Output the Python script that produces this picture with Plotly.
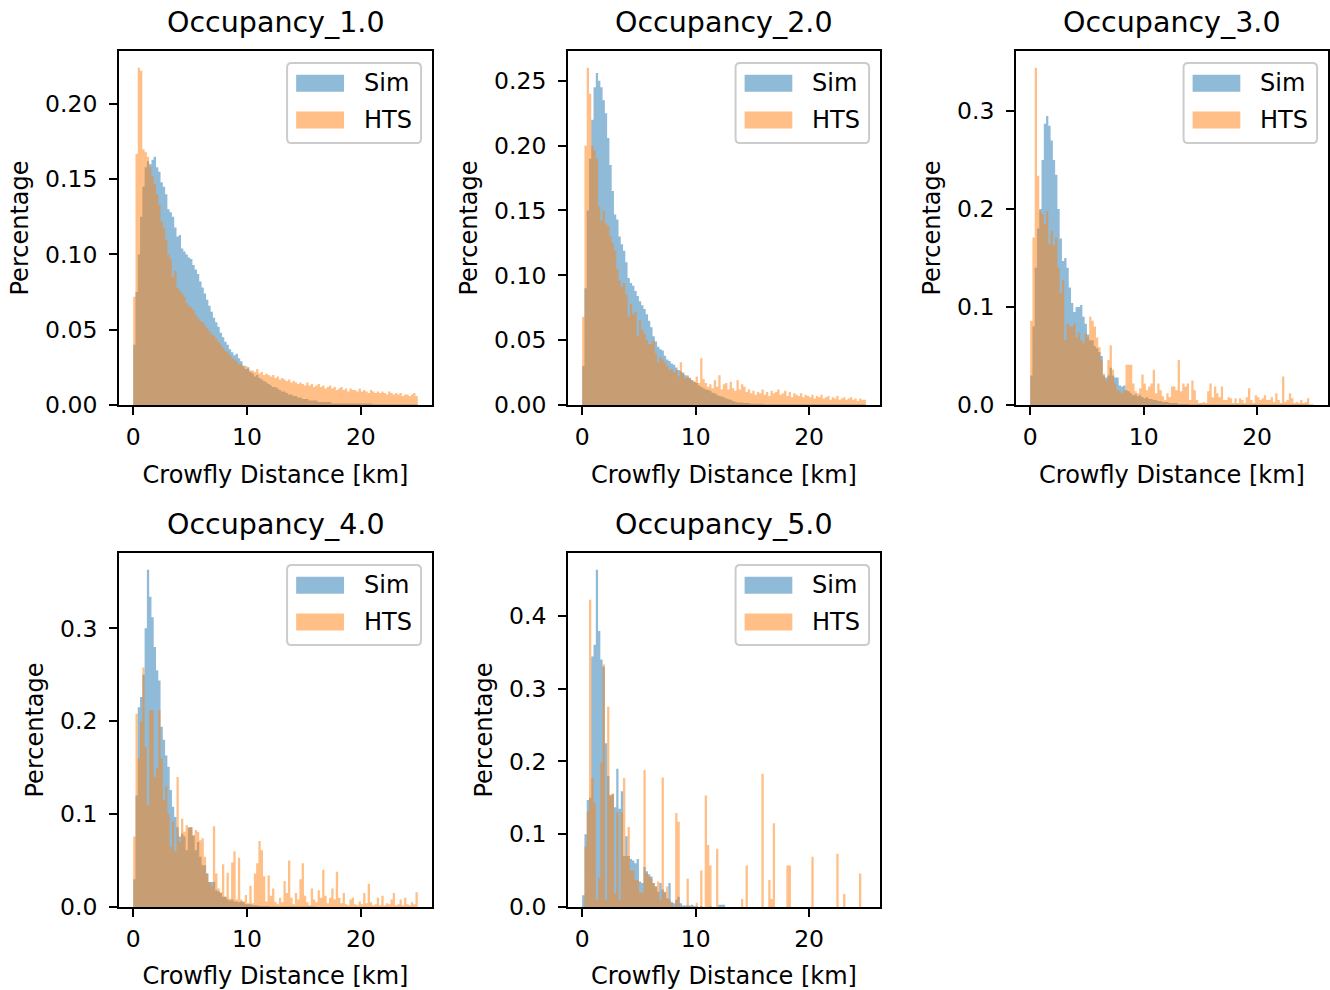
import numpy as np
import plotly.graph_objects as go

# 125 bins of 0.2 km between 0 and 25 km (density histograms)
bin_width = 0.2
bin_edges = np.round(np.arange(126) * bin_width, 2)

titles = ["Occupancy_1.0", "Occupancy_2.0", "Occupancy_3.0", "Occupancy_4.0", "Occupancy_5.0"]
series_names = ["Sim", "HTS"]
x_ticks = [0, 10, 20]
y_ticks = [
    [0.0, 0.05, 0.10, 0.15, 0.20],
    [0.0, 0.05, 0.10, 0.15, 0.20, 0.25],
    [0.0, 0.1, 0.2, 0.3],
    [0.0, 0.1, 0.2, 0.3],
    [0.0, 0.1, 0.2, 0.3, 0.4],
]
y_formats = [".2f", ".2f", ".1f", ".1f", ".1f"]

sim_1 = [0.040, 0.075, 0.100, 0.125, 0.145, 0.158, 0.162, 0.160, 0.163, 0.165,
         0.158, 0.155, 0.148, 0.145, 0.140, 0.130, 0.128, 0.125, 0.118, 0.112,
         0.113, 0.104, 0.102, 0.100, 0.098, 0.097, 0.093, 0.090, 0.087, 0.082,
         0.078, 0.074, 0.070, 0.066, 0.062, 0.058, 0.055, 0.052, 0.048, 0.045,
         0.042, 0.040, 0.037, 0.035, 0.033, 0.034, 0.031, 0.029, 0.026, 0.024,
         0.025, 0.022, 0.021, 0.019, 0.020, 0.018, 0.017, 0.016, 0.015, 0.014,
         0.013, 0.012, 0.012, 0.011, 0.010, 0.009, 0.009, 0.008, 0.007, 0.007,
         0.006, 0.006, 0.005, 0.005, 0.004, 0.004, 0.004, 0.003, 0.003, 0.003,
         0.003, 0.002, 0.002, 0.002, 0.002, 0.002, 0.002, 0.001, 0.001, 0.001,
         0.001, 0.001, 0.001, 0.001, 0.001, 0.001, 0.001, 0.001, 0.001, 0.001,
         0.001, 0.001, 0.001, 0.001, 0.001, 0.0005, 0.0005, 0.0005, 0.0005, 0.0005,
         0.0005, 0.0005, 0.0005, 0.0005, 0.0005, 0.0005, 0.0005, 0.0005, 0.0005, 0.0005,
         0.0005, 0.0005, 0.0005, 0.0005, 0.0005]
hts_1 = [0.072, 0.167, 0.224, 0.222, 0.170, 0.168, 0.165, 0.158, 0.152, 0.147,
         0.140, 0.133, 0.122, 0.118, 0.110, 0.100, 0.097, 0.085, 0.089, 0.078,
         0.076, 0.074, 0.072, 0.068, 0.066, 0.065, 0.063, 0.060, 0.058, 0.056,
         0.055, 0.053, 0.051, 0.049, 0.047, 0.046, 0.044, 0.042, 0.040, 0.038,
         0.036, 0.035, 0.033, 0.031, 0.030, 0.029, 0.027, 0.027, 0.025, 0.026,
         0.024, 0.023, 0.023, 0.022, 0.024, 0.021, 0.022, 0.020, 0.021, 0.020,
         0.019, 0.020, 0.018, 0.019, 0.017, 0.018, 0.017, 0.016, 0.017, 0.015,
         0.016, 0.015, 0.014, 0.015, 0.014, 0.013, 0.015, 0.013, 0.014, 0.012,
         0.013, 0.014, 0.012, 0.013, 0.011, 0.012, 0.013, 0.011, 0.012, 0.010,
         0.011, 0.012, 0.010, 0.011, 0.009, 0.011, 0.010, 0.010, 0.009, 0.011,
         0.009, 0.010, 0.009, 0.008, 0.010, 0.009, 0.008, 0.009, 0.008, 0.009,
         0.008, 0.007, 0.009, 0.008, 0.007, 0.008, 0.007, 0.008, 0.006, 0.007,
         0.007, 0.006, 0.007, 0.008, 0.006]

sim_2 = [0.030, 0.090, 0.150, 0.190, 0.220, 0.245, 0.256, 0.250, 0.245, 0.235,
         0.225, 0.206, 0.185, 0.165, 0.147, 0.143, 0.130, 0.124, 0.119, 0.110,
         0.098, 0.094, 0.092, 0.088, 0.084, 0.080, 0.077, 0.074, 0.070, 0.065,
         0.060, 0.053, 0.049, 0.045, 0.043, 0.042, 0.038, 0.035, 0.034, 0.032,
         0.031, 0.029, 0.027, 0.026, 0.025, 0.023, 0.022, 0.021, 0.019, 0.018,
         0.017, 0.015, 0.014, 0.013, 0.012, 0.0115, 0.011, 0.0095, 0.009, 0.008,
         0.007, 0.0065, 0.006, 0.005, 0.0045, 0.004, 0.003, 0.0025, 0.002, 0.002,
         0.002, 0.0015, 0.0015, 0.0015, 0.001, 0.001, 0.001, 0.001, 0.001, 0.001,
         0.0005, 0.0005, 0.0005, 0.0005, 0.0005, 0.0005, 0.0005, 0.0005, 0.0005, 0.0005,
         0.0005, 0.0005, 0.0005, 0.0005, 0.0005, 0.0005, 0.0005, 0.0005, 0.0005, 0.0005,
         0.0005, 0.0005, 0.0005, 0.0005, 0.0005, 0.0005, 0.0005, 0.0005, 0.0005, 0.0005,
         0.0005, 0.0005, 0.0005, 0.0005, 0.0005, 0.0005, 0.0005, 0.0005, 0.0005, 0.0005,
         0.0005, 0.0005, 0.0005, 0.0005, 0.0005]
hts_2 = [0.068, 0.200, 0.260, 0.240, 0.200, 0.196, 0.190, 0.153, 0.142, 0.150,
         0.140, 0.138, 0.130, 0.125, 0.119, 0.105, 0.096, 0.091, 0.094, 0.085,
         0.068, 0.078, 0.070, 0.072, 0.053, 0.065, 0.058, 0.055, 0.050, 0.047,
         0.047, 0.050, 0.040, 0.033, 0.037, 0.035, 0.033, 0.030, 0.027, 0.028,
         0.025, 0.027, 0.022, 0.033, 0.024, 0.020, 0.023, 0.020, 0.019, 0.018,
         0.022, 0.017, 0.036, 0.020, 0.017, 0.014, 0.016, 0.013, 0.019, 0.014,
         0.023, 0.012, 0.016, 0.017, 0.012, 0.018, 0.013, 0.011, 0.019, 0.012,
         0.016, 0.014, 0.010, 0.012, 0.009, 0.011, 0.008, 0.010, 0.009, 0.012,
         0.008, 0.010, 0.007, 0.011, 0.009, 0.010, 0.012, 0.008, 0.009, 0.011,
         0.007, 0.010, 0.006, 0.009, 0.008, 0.007, 0.009, 0.006, 0.008, 0.007,
         0.006, 0.008, 0.005, 0.007, 0.006, 0.008, 0.005, 0.006, 0.007, 0.004,
         0.006, 0.005, 0.007, 0.004, 0.005, 0.006, 0.004, 0.005, 0.006, 0.004,
         0.005, 0.003, 0.005, 0.004, 0.004]

sim_3 = [0.030, 0.080, 0.140, 0.180, 0.200, 0.250, 0.287, 0.295, 0.285, 0.270,
         0.250, 0.235, 0.200, 0.170, 0.147, 0.150, 0.140, 0.120, 0.104, 0.095,
         0.100, 0.100, 0.102, 0.090, 0.083, 0.072, 0.066, 0.066, 0.060, 0.058,
         0.054, 0.050, 0.030, 0.028, 0.030, 0.038, 0.030, 0.028, 0.028, 0.020,
         0.019, 0.020, 0.015, 0.014, 0.012, 0.010, 0.011, 0.009, 0.010, 0.008,
         0.007, 0.008, 0.006, 0.006, 0.005, 0.005, 0.004, 0.004, 0.003, 0.003,
         0.003, 0.002, 0.002, 0.002, 0.002, 0.001, 0.001, 0.001, 0.001, 0.001,
         0.0005, 0.0005, 0.0005, 0.0005, 0.0005, 0.0005, 0.0005, 0.0005, 0.0005, 0.0005,
         0.0005, 0.0005, 0.0005, 0.0005, 0.0005, 0.0005, 0.0005, 0.0005, 0.0005, 0.0005,
         0.0005, 0.0005, 0.0005, 0.0005, 0.0005, 0.0005, 0.0005, 0.0005, 0.0005, 0.0005,
         0.0005, 0.0005, 0.0005, 0.0005, 0.0005, 0.0005, 0.0005, 0.0005, 0.0005, 0.0005,
         0.0005, 0.0005, 0.0005, 0.0005, 0.0005, 0.0005, 0.0005, 0.0005, 0.0005, 0.0005,
         0.0005, 0.0005, 0.0005, 0.0005, 0.0005]
hts_3 = [0.086, 0.171, 0.344, 0.234, 0.198, 0.195, 0.185, 0.198, 0.164, 0.178,
         0.163, 0.171, 0.140, 0.114, 0.127, 0.066, 0.083, 0.080, 0.080, 0.083,
         0.069, 0.074, 0.066, 0.063, 0.073, 0.069, 0.090, 0.086, 0.080, 0.069,
         0.059, 0.046, 0.032, 0.025, 0.046, 0.061, 0.036, 0.022, 0.015, 0.014,
         0.012, 0.015, 0.041, 0.041, 0.041, 0.022, 0.014, 0.012, 0.017, 0.031,
         0.022, 0.015, 0.019, 0.022, 0.036, 0.012, 0.022, 0.015, 0.009, 0.005,
         0.012, 0.008, 0.019, 0.019, 0.015, 0.046, 0.014, 0.022, 0.019, 0.022,
         0.005, 0.025, 0.015, 0.005, 0.002, 0.002, 0.003, 0.002, 0.014, 0.022,
         0.008, 0.019, 0.012, 0.008, 0.019, 0.005, 0.005, 0.008, 0.007, 0.002,
         0.007, 0.002, 0.007, 0.005, 0.002, 0.008, 0.017, 0.005, 0.002, 0.010,
         0.008, 0.005, 0.007, 0.010, 0.005, 0.005, 0.008, 0.003, 0.012, 0.005,
         0.002, 0.029, 0.003, 0.005, 0.012, 0.007, 0.002, 0.003, 0.002, 0.005,
         0.002, 0.003, 0.007, 0.000, 0.000]

sim_4 = [0.030, 0.120, 0.215, 0.226, 0.250, 0.300, 0.363, 0.334, 0.312, 0.280,
         0.255, 0.244, 0.194, 0.180, 0.163, 0.151, 0.126, 0.108, 0.097, 0.086,
         0.076, 0.079, 0.076, 0.061, 0.086, 0.086, 0.077, 0.061, 0.070, 0.054,
         0.045, 0.045, 0.036, 0.027, 0.027, 0.027, 0.018, 0.017, 0.015, 0.011,
         0.011, 0.008, 0.007, 0.008, 0.006, 0.006, 0.005, 0.006, 0.005, 0.003,
         0.003, 0.003, 0.002, 0.002, 0.002, 0.001, 0.001, 0.001, 0.001, 0.001,
         0.0005, 0.0005, 0.0005, 0.0005, 0.0005, 0.0005, 0.0005, 0.0005, 0.0005, 0.0005,
         0.0005, 0.0005, 0.0005, 0.0005, 0.0005, 0.0005, 0.0005, 0.0005, 0.0005, 0.0005,
         0.0, 0.0, 0.0, 0.0, 0.0, 0.0, 0.0, 0.0, 0.0, 0.0,
         0.0, 0.0, 0.0, 0.0, 0.0, 0.0, 0.0, 0.0, 0.0, 0.0,
         0.0, 0.0, 0.0, 0.0, 0.0, 0.0, 0.0, 0.0, 0.0, 0.0,
         0.0, 0.0, 0.0, 0.0, 0.0, 0.0, 0.0, 0.0, 0.0, 0.0,
         0.0, 0.0, 0.0, 0.0, 0.0]
hts_4 = [0.076, 0.208, 0.160, 0.200, 0.258, 0.172, 0.110, 0.212, 0.212, 0.140,
         0.150, 0.212, 0.160, 0.115, 0.130, 0.100, 0.065, 0.092, 0.060, 0.140,
         0.070, 0.095, 0.081, 0.088, 0.085, 0.086, 0.077, 0.083, 0.081, 0.072,
         0.074, 0.054, 0.036, 0.027, 0.022, 0.087, 0.036, 0.020, 0.016, 0.046,
         0.011, 0.037, 0.009, 0.048, 0.060, 0.008, 0.053, 0.008, 0.006, 0.013,
         0.004, 0.023, 0.004, 0.036, 0.047, 0.071, 0.061, 0.033, 0.006, 0.034,
         0.012, 0.020, 0.005, 0.003, 0.010, 0.005, 0.028, 0.015, 0.050, 0.010,
         0.003, 0.015, 0.008, 0.030, 0.047, 0.012, 0.005, 0.002, 0.020, 0.008,
         0.005, 0.018, 0.010, 0.040, 0.012, 0.004, 0.010, 0.020, 0.008, 0.038,
         0.010, 0.004, 0.015, 0.003, 0.002, 0.008, 0.010, 0.003, 0.002, 0.006,
         0.003, 0.015, 0.004, 0.025, 0.005, 0.002, 0.003, 0.010, 0.002, 0.012,
         0.002, 0.004, 0.003, 0.008, 0.015, 0.002, 0.003, 0.008, 0.002, 0.010,
         0.003, 0.002, 0.005, 0.003, 0.016]

sim_5 = [0.016, 0.100, 0.147, 0.150, 0.344, 0.360, 0.463, 0.379, 0.340, 0.330,
         0.225, 0.180, 0.153, 0.155, 0.137, 0.190, 0.135, 0.159, 0.070, 0.097,
         0.070, 0.066, 0.064, 0.060, 0.066, 0.035, 0.033, 0.055, 0.049, 0.045,
         0.042, 0.033, 0.028, 0.021, 0.033, 0.024, 0.021, 0.012, 0.033, 0.007,
         0.005, 0.010, 0.014, 0.005, 0.002, 0.002, 0.002, 0.002, 0.003, 0.001,
         0.001, 0.0, 0.001, 0.0, 0.0, 0.0, 0.001, 0.0, 0.0, 0.0,
         0.003, 0.003, 0.003, 0.0, 0.0, 0.0, 0.0, 0.0, 0.0, 0.0,
         0.0, 0.0, 0.0, 0.0, 0.0, 0.0, 0.0, 0.0, 0.0, 0.0,
         0.0, 0.0, 0.0, 0.0, 0.0, 0.0, 0.0, 0.0, 0.0, 0.0,
         0.0, 0.0, 0.0, 0.0, 0.0, 0.0, 0.0, 0.0, 0.0, 0.0,
         0.0, 0.0, 0.0, 0.0, 0.0, 0.0, 0.0, 0.0, 0.0, 0.0,
         0.0, 0.0, 0.0, 0.0, 0.0, 0.0, 0.0, 0.0, 0.0, 0.0,
         0.0, 0.0, 0.0, 0.0, 0.0]
hts_5 = [0.000, 0.083, 0.131, 0.422, 0.177, 0.143, 0.010, 0.040, 0.198, 0.333,
         0.010, 0.275, 0.154, 0.156, 0.019, 0.130, 0.010, 0.130, 0.177, 0.070,
         0.110, 0.050, 0.050, 0.037, 0.037, 0.020, 0.020, 0.188, 0.046, 0.042,
         0.039, 0.033, 0.028, 0.035, 0.010, 0.178, 0.019, 0.028, 0.010, 0.005,
         0.000, 0.129, 0.117, 0.000, 0.000, 0.000, 0.039, 0.000, 0.000, 0.000,
         0.006, 0.000, 0.050, 0.000, 0.153, 0.085, 0.057, 0.000, 0.000, 0.080,
         0.000, 0.000, 0.000, 0.000, 0.000, 0.000, 0.000, 0.000, 0.000, 0.000,
         0.011, 0.000, 0.057, 0.000, 0.000, 0.000, 0.000, 0.000, 0.000, 0.183,
         0.000, 0.000, 0.037, 0.011, 0.115, 0.000, 0.000, 0.000, 0.000, 0.000,
         0.057, 0.057, 0.000, 0.000, 0.000, 0.000, 0.000, 0.000, 0.000, 0.000,
         0.000, 0.069, 0.000, 0.000, 0.000, 0.000, 0.000, 0.000, 0.000, 0.000,
         0.000, 0.000, 0.073, 0.000, 0.000, 0.018, 0.000, 0.000, 0.000, 0.000,
         0.000, 0.000, 0.046, 0.000, 0.000]

sim_series = [sim_1, sim_2, sim_3, sim_4, sim_5]
hts_series = [hts_1, hts_2, hts_3, hts_4, hts_5]

W, H = 1330, 990
FONT = "DejaVu Sans"
fills = ["rgba(31,119,180,0.5)", "rgba(255,127,14,0.5)"]
patch_cols = ["rgb(143,187,217)", "rgb(255,191,134)"]

# axes boxes in pixels (left, right, top, bottom)
col_px = [(119, 432), (568, 880), (1016, 1328)]
row_px = [(51, 405), (553, 907)]
cells = [(0, 0), (0, 1), (0, 2), (1, 0), (1, 1)]


def rounded_box(x0, x1, y0, y1, rx, ry):
    return (f"M {x0 + rx},{y0} L {x1 - rx},{y0} Q {x1},{y0} {x1},{y0 + ry} "
            f"L {x1},{y1 - ry} Q {x1},{y1} {x1 - rx},{y1} L {x0 + rx},{y1} "
            f"Q {x0},{y1} {x0},{y1 - ry} L {x0},{y0 + ry} Q {x0},{y0} {x0 + rx},{y0} Z")


fig = go.Figure()
layout = dict(
    width=W, height=H, margin=dict(l=0, r=0, t=0, b=0),
    plot_bgcolor="white", paper_bgcolor="white", showlegend=False,
    font=dict(family=FONT, size=23.5, color="black"),
)
shapes = []
annotations = []

for k in range(5):
    r, c = cells[k]
    n = "" if k == 0 else str(k + 1)
    xa, ya = "x" + n, "y" + n
    x0, x1 = col_px[c]
    t0, b0 = row_px[r]
    dom_x = [x0 / W, x1 / W]
    dom_y = [1 - b0 / H, 1 - t0 / H]

    for vals, name, fc in zip([sim_series[k], hts_series[k]], series_names, fills):
        fig.add_trace(go.Scatter(
            x=bin_edges, y=list(vals) + [vals[-1]], mode="lines", line_shape="hv",
            line=dict(width=0, color=fc), fill="tozeroy", fillcolor=fc,
            name=name, xaxis=xa, yaxis=ya, hoverinfo="skip"))

    ymax = max(max(sim_series[k]), max(hts_series[k])) * 1.05
    axis_common = dict(showline=True, linecolor="black", linewidth=1.8, mirror=True,
                       ticks="outside", ticklen=8, tickwidth=1.8, tickcolor="black",
                       showgrid=False, zeroline=False, automargin=False,
                       tickfont=dict(family=FONT, size=23.5, color="black"))
    layout["xaxis" + n] = dict(axis_common, domain=dom_x, anchor=ya, range=[-1.25, 26.25],
                               tickvals=x_ticks, ticklabelstandoff=2,
                               title=dict(text="Crowfly Distance [km]", standoff=16,
                                          font=dict(family=FONT, size=24)))
    layout["yaxis" + n] = dict(axis_common, domain=dom_y, anchor=xa, range=[0, ymax],
                               tickvals=y_ticks[k], tickformat=y_formats[k],
                               ticklabelstandoff=7,
                               title=dict(text="Percentage", standoff=10,
                                          font=dict(family=FONT, size=24)))

    annotations.append(dict(text=titles[k], xref="paper", yref="paper",
                            x=(dom_x[0] + dom_x[1]) / 2, y=dom_y[1], yshift=29,
                            xanchor="center", yanchor="middle", showarrow=False,
                            font=dict(family=FONT, size=28.5, color="black")))

    # legend box like matplotlib's upper-right legend
    xd, yd = xa + " domain", ya + " domain"
    shapes.append(dict(type="path", xref=xd, yref=yd,
                       path=rounded_box(0.537, 0.965, 0.740, 0.966, 0.014, 0.013),
                       fillcolor="rgba(255,255,255,0.8)", line=dict(color="rgb(204,204,204)", width=2)))
    for j, (name, pc) in enumerate(zip(series_names, patch_cols)):
        yc = 0.909 - j * 0.104
        shapes.append(dict(type="rect", xref=xd, yref=yd, x0=0.566, x1=0.719,
                           y0=yc - 0.024, y1=yc + 0.024, fillcolor=pc, line=dict(width=0)))
        annotations.append(dict(text=name, xref=xd, yref=yd, x=0.775, y=yc,
                                xanchor="left", yanchor="middle", showarrow=False,
                                font=dict(family=FONT, size=24, color="black")))

layout["shapes"] = shapes
layout["annotations"] = annotations
fig.update_layout(**layout)
fig.write_html("out.html", config={"displayModeBar": False},
               post_script="document.body.style.margin='0px';")
